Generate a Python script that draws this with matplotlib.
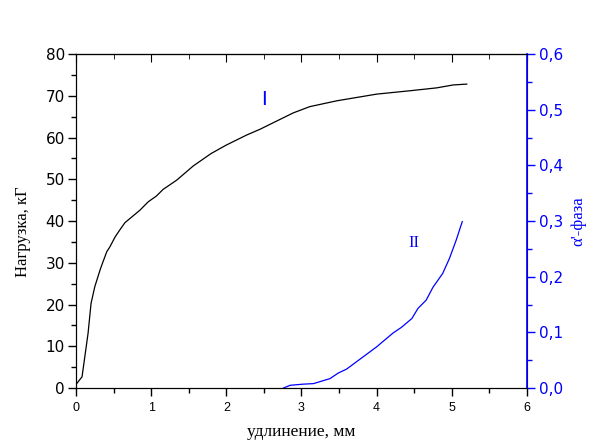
import numpy as np
import matplotlib.pyplot as plt
from matplotlib.ticker import MultipleLocator, FuncFormatter

# curve I: load vs elongation
load_x = [0.01, 0.08, 0.12, 0.16, 0.20, 0.25, 0.32, 0.36, 0.41, 0.45, 0.52, 0.58,
          0.65, 0.85, 0.96, 1.07, 1.16, 1.34, 1.56, 1.80, 2.00, 2.27, 2.45, 2.89,
          3.11, 3.47, 4.00, 4.44, 4.80, 5.02, 5.20]
load_y = [1.1, 2.7, 7.9, 13.1, 20.3, 24.3, 28.3, 30.3, 32.7, 33.8, 36.2, 37.8,
          39.6, 42.6, 44.6, 46.0, 47.6, 49.8, 53.2, 56.2, 58.2, 60.6, 62.0, 65.9,
          67.4, 68.8, 70.4, 71.2, 71.9, 72.6, 72.8]

# curve II: alpha'-phase fraction vs elongation
phase_x = [2.76, 2.85, 3.02, 3.16, 3.38, 3.49, 3.60, 3.82, 4.00, 4.22, 4.33,
           4.47, 4.55, 4.66, 4.75, 4.88, 4.97, 5.06, 5.14]
phase_y = [0.0, 0.005, 0.007, 0.008, 0.017, 0.027, 0.034, 0.056, 0.074, 0.099,
           0.109, 0.125, 0.143, 0.158, 0.181, 0.206, 0.233, 0.266, 0.299]

blue = '#0000ff'
sans = 'Liberation Sans'
wide = 'DejaVu Sans'
serif = 'Liberation Serif'

fig = plt.figure(figsize=(5.94, 4.43), dpi=100)
ax = fig.add_axes([0.128, 0.124, 0.759, 0.754])
ax.plot(load_x, load_y, color='black', lw=0.9)
ax.set_xlim(0, 6)
ax.set_ylim(0, 80)

ax.xaxis.set_major_locator(MultipleLocator(1))
ax.xaxis.set_minor_locator(MultipleLocator(0.5))
ax.yaxis.set_major_locator(MultipleLocator(10))
ax.yaxis.set_minor_locator(MultipleLocator(5))
ax.tick_params(axis='both', which='major', direction='out', length=6, width=1)
ax.tick_params(axis='both', which='minor', direction='out', length=3.5, width=1)
ax.tick_params(axis='x', labelsize=9, pad=4)
ax.tick_params(axis='y', labelsize=11, pad=2)
for lbl in ax.get_xticklabels():
    lbl.set_fontfamily(sans)
for lbl in ax.get_yticklabels():
    lbl.set_fontfamily(wide)

ax.set_xlabel('удлинение, мм', fontfamily=serif, fontsize=12.5, labelpad=7)
ax.set_ylabel('Нагрузка, кГ', fontfamily=serif, fontsize=12)
ax.yaxis.set_label_coords(-0.1, 0.467)

# top spine ticks point inward
top = ax.secondary_xaxis('top')
top.xaxis.set_major_locator(MultipleLocator(1))
top.xaxis.set_minor_locator(MultipleLocator(0.5))
top.tick_params(which='major', direction='in', length=6, labeltop=False)
top.tick_params(which='minor', direction='in', length=3.5)

ax2 = ax.twinx()
ax2.plot(phase_x, phase_y, color=blue, lw=0.9)
ax2.set_ylim(0, 0.6)
ax2.yaxis.set_major_locator(MultipleLocator(0.1))
ax2.yaxis.set_minor_locator(MultipleLocator(0.05))
ax2.yaxis.set_major_formatter(FuncFormatter(lambda v, p: f'{v:.1f}'.replace('.', ',')))
ax2.tick_params(axis='y', which='major', direction='out', length=6, width=1,
                colors=blue, labelsize=11, pad=3)
ax2.tick_params(axis='y', which='minor', direction='out', length=3.5, width=1, colors=blue)
for lbl in ax2.get_yticklabels():
    lbl.set_fontfamily(wide)
ax2.spines['right'].set_color(blue)
ax2.spines['right'].set_linewidth(1.2)
ax2.set_ylabel("α'-фаза", fontfamily=serif, fontsize=12, color=blue, labelpad=5)

ax.text(2.5, 69, 'I', color=blue, fontsize=15, fontfamily=sans, ha='center', va='center')
ax2.text(4.49, 0.261, 'II', color=blue, fontsize=12, fontfamily=serif, ha='center', va='center')

fig.savefig('out.png', dpi=100)
